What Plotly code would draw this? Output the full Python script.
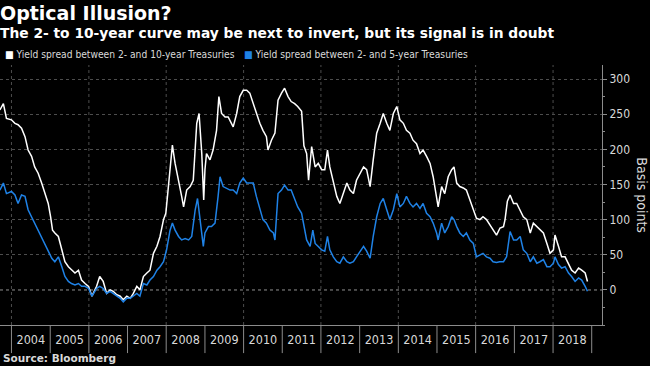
import pandas as pd
import plotly.graph_objects as go

# ---- data (decimal years, basis points) ----
t_2s10s = [2003.70, 2003.79, 2003.87, 2004.00, 2004.09, 2004.17, 2004.26, 2004.35, 2004.43, 2004.52,
           2004.60, 2004.69, 2004.78, 2004.86, 2004.95, 2005.01, 2005.06, 2005.12, 2005.21, 2005.30,
           2005.38, 2005.47, 2005.55, 2005.64, 2005.73, 2005.81, 2005.90, 2005.99, 2006.08, 2006.20,
           2006.28, 2006.37, 2006.46, 2006.55, 2006.63, 2006.72, 2006.81, 2006.89, 2006.98, 2007.07,
           2007.15, 2007.24, 2007.32, 2007.41, 2007.50, 2007.58, 2007.67, 2007.76, 2007.84, 2007.93,
           2007.99, 2008.06, 2008.10, 2008.16, 2008.23, 2008.32, 2008.40, 2008.45, 2008.53, 2008.62,
           2008.70, 2008.79, 2008.85, 2008.92, 2008.97, 2009.00, 2009.04, 2009.13, 2009.21, 2009.30,
           2009.36, 2009.43, 2009.52, 2009.60, 2009.69, 2009.73, 2009.82, 2009.90, 2009.99, 2010.08,
           2010.16, 2010.25, 2010.33, 2010.42, 2010.50, 2010.59, 2010.63, 2010.72, 2010.81, 2010.89,
           2010.98, 2011.06, 2011.15, 2011.23, 2011.32, 2011.40, 2011.50, 2011.56, 2011.63, 2011.68,
           2011.76, 2011.85, 2011.93, 2012.02, 2012.10, 2012.17, 2012.23, 2012.32, 2012.41, 2012.49,
           2012.58, 2012.67, 2012.75, 2012.84, 2012.92, 2013.01, 2013.10, 2013.18, 2013.27, 2013.35,
           2013.44, 2013.53, 2013.61, 2013.70, 2013.78, 2013.87, 2013.96, 2014.04, 2014.13, 2014.21,
           2014.30, 2014.38, 2014.47, 2014.56, 2014.64, 2014.73, 2014.82, 2014.90, 2014.99, 2015.03,
           2015.12, 2015.20, 2015.29, 2015.38, 2015.44, 2015.51, 2015.59, 2015.68, 2015.76, 2015.85,
           2015.94, 2016.02, 2016.11, 2016.19, 2016.28, 2016.37, 2016.45, 2016.54, 2016.63, 2016.72,
           2016.76, 2016.82, 2016.89, 2016.98, 2017.06, 2017.15, 2017.23, 2017.32, 2017.41, 2017.49,
           2017.58, 2017.66, 2017.75, 2017.84, 2017.92, 2018.01, 2018.05, 2018.14, 2018.22, 2018.31,
           2018.40, 2018.48, 2018.57, 2018.66, 2018.74, 2018.83, 2018.89]
v_2s10s = [256, 265, 244, 242, 237, 235, 230, 218, 199, 190,
           175, 166, 152, 137, 123, 104, 85, 81, 76, 57,
           40, 33, 28, 24, 28, 14, 9, 5, -9, 5,
           19, 12, -5, 0, -2, -7, -9, -14, -9, -12,
           -5, 5, 0, 19, 24, 28, 52, 62, 76, 100,
           109, 147, 175, 206, 180, 152, 133, 118, 142, 147,
           156, 237, 251, 194, 128, 171, 194, 185, 199, 227,
           275, 251, 246, 246, 237, 232, 251, 275, 284, 284,
           280, 265, 251, 237, 227, 218, 199, 213, 223, 270,
           280, 287, 275, 268, 265, 261, 254, 205, 194, 156,
           204, 175, 180, 171, 171, 199, 175, 156, 133, 123,
           137, 152, 142, 137, 156, 166, 175, 171, 147, 185,
           223, 237, 251, 237, 227, 251, 261, 242, 237, 227,
           223, 213, 208, 194, 199, 190, 180, 161, 133, 118,
           147, 137, 161, 171, 175, 152, 147, 145, 142, 128,
           114, 102, 100, 104, 100, 92, 85, 78, 88, 90,
           100, 126, 135, 123, 123, 114, 104, 100, 81, 95,
           90, 85, 81, 66, 52, 57, 78, 62, 47, 47,
           38, 28, 24, 31, 28, 24, 12]

t_2s5s = [2003.70, 2003.79, 2003.87, 2004.00, 2004.09, 2004.17, 2004.26, 2004.35, 2004.43, 2004.52,
          2004.60, 2004.69, 2004.78, 2004.86, 2004.95, 2005.04, 2005.12, 2005.21, 2005.30, 2005.38,
          2005.47, 2005.55, 2005.64, 2005.73, 2005.81, 2005.90, 2005.99, 2006.08, 2006.20, 2006.28,
          2006.37, 2006.46, 2006.55, 2006.63, 2006.72, 2006.81, 2006.89, 2006.98, 2007.07, 2007.15,
          2007.24, 2007.32, 2007.41, 2007.50, 2007.58, 2007.67, 2007.76, 2007.84, 2007.93, 2008.01,
          2008.10, 2008.16, 2008.23, 2008.32, 2008.40, 2008.49, 2008.58, 2008.66, 2008.75, 2008.81,
          2008.87, 2008.96, 2009.00, 2009.09, 2009.17, 2009.26, 2009.34, 2009.39, 2009.47, 2009.56,
          2009.65, 2009.73, 2009.82, 2009.90, 2009.99, 2010.08, 2010.16, 2010.25, 2010.33, 2010.42,
          2010.50, 2010.59, 2010.68, 2010.77, 2010.81, 2010.89, 2010.98, 2011.06, 2011.15, 2011.23,
          2011.32, 2011.40, 2011.50, 2011.56, 2011.63, 2011.72, 2011.79, 2011.85, 2011.93, 2012.02,
          2012.10, 2012.17, 2012.23, 2012.32, 2012.41, 2012.49, 2012.58, 2012.67, 2012.75, 2012.84,
          2012.92, 2013.01, 2013.10, 2013.18, 2013.27, 2013.35, 2013.44, 2013.53, 2013.61, 2013.70,
          2013.78, 2013.87, 2013.96, 2014.04, 2014.13, 2014.21, 2014.30, 2014.38, 2014.47, 2014.56,
          2014.64, 2014.73, 2014.82, 2014.90, 2014.99, 2015.03, 2015.12, 2015.20, 2015.29, 2015.38,
          2015.44, 2015.51, 2015.59, 2015.68, 2015.76, 2015.85, 2015.94, 2016.02, 2016.11, 2016.19,
          2016.28, 2016.37, 2016.45, 2016.54, 2016.62, 2016.72, 2016.80, 2016.89, 2016.98, 2017.06,
          2017.15, 2017.23, 2017.32, 2017.41, 2017.49, 2017.58, 2017.66, 2017.75, 2017.84, 2017.92,
          2018.01, 2018.05, 2018.14, 2018.22, 2018.31, 2018.40, 2018.48, 2018.57, 2018.66, 2018.74,
          2018.83, 2018.89]
v_2s5s = [142, 152, 137, 140, 135, 123, 135, 133, 114, 104,
          95, 85, 76, 66, 57, 45, 40, 47, 33, 19,
          12, 9, 7, 9, 5, 5, 2, -9, 2, 5,
          2, -5, -2, -5, -9, -12, -17, -12, -12, -9,
          -5, -9, 9, 7, 14, 19, 28, 33, 40, 57,
          85, 95, 85, 76, 71, 73, 71, 76, 114, 130,
          100, 62, 81, 90, 90, 95, 133, 161, 147, 145,
          142, 142, 137, 152, 159, 152, 152, 152, 133, 114,
          100, 95, 85, 81, 71, 137, 142, 149, 142, 142,
          128, 118, 109, 90, 71, 62, 85, 66, 62, 57,
          55, 76, 57, 47, 40, 38, 47, 40, 38, 40,
          47, 55, 62, 55, 45, 76, 104, 123, 130, 114,
          100, 114, 137, 118, 123, 133, 123, 118, 123, 116,
          123, 109, 104, 95, 81, 71, 95, 81, 90, 104,
          100, 90, 81, 76, 81, 71, 66, 47, 50, 52,
          47, 45, 40, 39, 40, 40, 47, 83, 71, 71,
          76, 57, 52, 40, 47, 38, 40, 43, 33, 33,
          38, 47, 36, 31, 33, 24, 19, 12, 17, 14,
          5, -2]

year_ticks = list(range(2004, 2020))
y_ticks = [0, 50, 100, 150, 200, 250, 300]

name_10 = "Yield spread between 2- and 10-year Treasuries"
name_5 = "Yield spread between 2- and 5-year Treasuries"


def to_date(t):
    y = int(t)
    return pd.Timestamp(f"{y}-01-01") + pd.Timedelta(days=(t - y) * 365.25)


WHITE = "#ffffff"
BLUE = "#1f82e6"
GRID = "#4d4d4d"
AXIS = "#8c8c8c"
TXT = "#d9d9d9"
NARROW = "DejaVu Sans Condensed, Liberation Sans Narrow, Arial Narrow, sans-serif"
BOLD = "DejaVu Sans, Verdana, sans-serif"

fig = go.Figure()
fig.add_trace(go.Scatter(x=[to_date(t) for t in t_2s10s], y=v_2s10s, mode="lines",
                         line=dict(color=WHITE, width=1.5), name=name_10, showlegend=False))
fig.add_trace(go.Scatter(x=[to_date(t) for t in t_2s5s], y=v_2s5s, mode="lines",
                         line=dict(color=BLUE, width=1.5), name=name_5, showlegend=False))

shapes = []
# year boundary ticks below the x axis
for yr in year_ticks:
    shapes.append(dict(type="line", xref="x", yref="paper", x0=f"{yr}-01-01", x1=f"{yr}-01-01",
                       y0=0, y1=-0.108, line=dict(color=AXIS, width=1)))
# dotted vertical gridlines every two years
for yr in year_ticks[::2]:
    shapes.append(dict(type="line", xref="x", yref="paper", x0=f"{yr}-01-01", x1=f"{yr}-01-01",
                       y0=0, y1=1, line=dict(color=GRID, width=1, dash="dot"), layer="below"))
# zero line
shapes.append(dict(type="line", xref="paper", yref="y", x0=0, x1=1, y0=0, y1=0,
                   line=dict(color="#bdbdbd", width=1, dash="dot"), layer="below"))

fig.update_layout(
    width=650, height=366,
    paper_bgcolor="#000000", plot_bgcolor="#000000",
    margin=dict(l=0, r=48, t=65, b=41),
    shapes=shapes,
    xaxis=dict(
        type="date",
        range=[to_date(2003.703), to_date(2019.266)],
        tick0="2004-01-01", dtick="M12", tickformat="%Y", ticklabelmode="period",
        ticks="outside", ticklen=3, tickcolor="rgba(0,0,0,0)",
        showgrid=False, zeroline=False,
        showline=True, linecolor=AXIS, linewidth=1,
        tickfont=dict(family=NARROW, size=12.5, color=TXT),
    ),
    yaxis=dict(
        side="right", range=[-50, 320],
        tickvals=y_ticks,
        ticks="outside", ticklen=4, tickcolor=AXIS,
        minor=dict(dtick=25, ticks="outside", ticklen=2, tickcolor=AXIS, showgrid=False),
        showgrid=True, gridcolor=GRID, griddash="dot", gridwidth=1,
        zeroline=False,
        showline=True, linecolor=AXIS, linewidth=1,
        tickfont=dict(family=NARROW, size=12, color=TXT),
    ),
    annotations=[
        dict(text="<b>Optical Illusion?</b>", xref="paper", yref="paper", x=-0.003, y=1.2,
             xanchor="left", yanchor="middle", showarrow=False,
             font=dict(family=BOLD, size=19, color="#ffffff")),
        dict(text="<b>The 2- to 10-year curve may be next to invert, but its signal is in doubt</b>",
             xref="paper", yref="paper", x=-0.003, y=1.123, xanchor="left", yanchor="middle",
             showarrow=False, font=dict(family=BOLD, size=13.8, color="#ffffff")),
        dict(text=f'<span style="color:{WHITE}">■</span> {name_10}', xref="paper", yref="paper",
             x=0.005, y=1.042, xanchor="left", yanchor="middle", showarrow=False,
             font=dict(family=NARROW, size=10.2, color=TXT)),
        dict(text=f'<span style="color:{BLUE}">■</span> {name_5}', xref="paper", yref="paper",
             x=0.402, y=1.042, xanchor="left", yanchor="middle", showarrow=False,
             font=dict(family=NARROW, size=10.2, color=TXT)),
        dict(text="Basis points", textangle=90, xref="paper", yref="paper", x=1.066, y=0.5,
             xanchor="center", yanchor="middle", showarrow=False,
             font=dict(family=NARROW, size=14, color=TXT)),
        dict(text="<b>Source: Bloomberg</b>", xref="paper", yref="paper", x=0.002, y=-0.127,
             xanchor="left", yanchor="middle", showarrow=False,
             font=dict(family=BOLD, size=10.5, color=TXT)),
    ],
)

fig.write_html("out.html", config={"displayModeBar": False},
               post_script="document.body.style.margin='0';")
